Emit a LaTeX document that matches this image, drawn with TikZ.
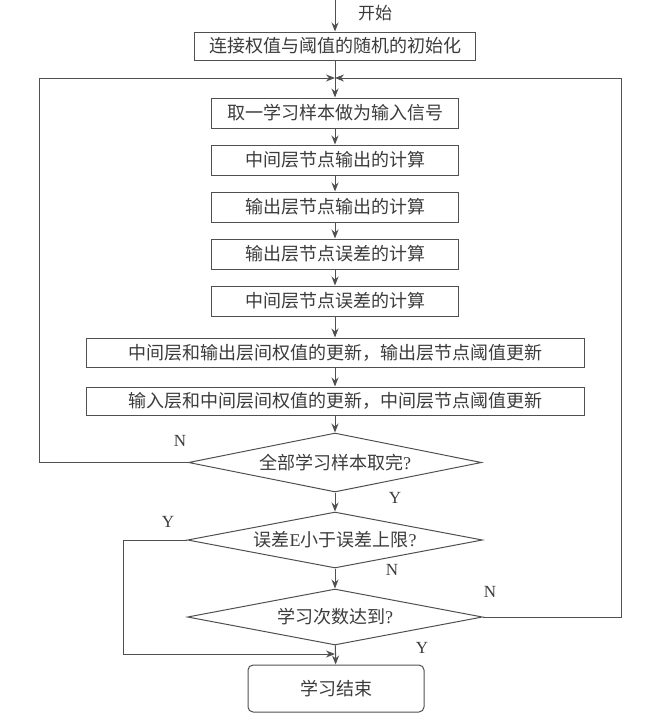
\documentclass[tikz,border=0pt]{standalone}
\usepackage{fontspec}
\setmainfont{Liberation Serif}
\newfontfamily\cjk{Noto Sans CJK SC}
\usetikzlibrary{shapes.geometric,arrows.meta}
\definecolor{linec}{HTML}{505050}
\definecolor{textc}{HTML}{3C3C3C}
\begin{document}
\begin{tikzpicture}[x=1pt,y=-1pt,
  ln/.style={draw=linec,line width=1pt},
  arr/.style={ln,-{Stealth[length=9pt,width=7pt]}},
  box/.style={draw=linec,line width=1pt,fill=white,text=textc,font=\cjk\fontsize{18}{21}\selectfont,inner sep=0pt,minimum height=29pt},
  dia/.style={diamond,aspect=5,draw=linec,line width=1pt,fill=white,text=textc,font=\cjk\fontsize{18}{21}\selectfont,inner sep=0pt},
  lab/.style={text=textc,font=\fontsize{17}{19}\selectfont}]
\useasboundingbox (0,0) rectangle (658,726);
\fill[white] (0,0) rectangle (658,726);

\coordinate (s) at (335,0);
\node[text=textc,font=\cjk\fontsize{17}{19}\selectfont] (kaishi) at (375,13) {开始};
\node[box,minimum width=281pt,minimum height=28pt] (init) at (335,46) {连接权值与阈值的随机的初始化};
\coordinate (J) at (335,78);
\node[box,minimum width=247pt,minimum height=30pt] (b1) at (335,113) {取一学习样本做为输入信号};
\node[box,minimum width=247pt,minimum height=30pt] (b2) at (335,160) {中间层节点输出的计算};
\node[box,minimum width=247pt,minimum height=30pt] (b3) at (335,207) {输出层节点输出的计算};
\node[box,minimum width=247pt,minimum height=30pt] (b4) at (335,254) {输出层节点误差的计算};
\node[box,minimum width=247pt,minimum height=30pt] (b5) at (335,301) {中间层节点误差的计算};
\node[box,minimum width=498pt,minimum height=29pt] (b6) at (335,352.5) {中间层和输出层间权值的更新，输出层节点阈值更新};
\node[box,minimum width=498pt,minimum height=28pt] (b7) at (335,401) {输入层和中间层间权值的更新，中间层节点阈值更新};
\node[dia,minimum width=293pt,minimum height=59pt] (d1) at (335,462.5) {全部学习样本取完{\rmfamily ?}};
\node[dia,minimum width=295pt,minimum height=56pt] (d2) at (335,540) {误差{\rmfamily E}小于误差上限{\rmfamily ?}};
\node[dia,minimum width=295pt,minimum height=56pt] (d3) at (335,617) {学习次数达到{\rmfamily ?}};
\node[box,rounded corners=5pt,minimum width=176pt,minimum height=47pt] (end) at (336,688.5) {学习结束};

\draw[arr] (s) -- (init);
\draw[ln] (init) -- (J);
\draw[arr] (J) -- (b1);
\draw[arr] (b1) -- (b2);
\draw[arr] (b2) -- (b3);
\draw[arr] (b3) -- (b4);
\draw[arr] (b4) -- (b5);
\draw[arr] (b5) -- (b6);
\draw[arr] (b6) -- (b7);
\draw[arr] (b7) -- (d1);
\draw[arr] (d1) -- (d2);
\draw[arr] (d2) -- (d3);
\draw[arr] (d3) -- (end);

\coordinate (lc) at (39,78);
\coordinate (rc) at (621,78);
\coordinate (yc) at (123,654);
\coordinate (yj) at (335,654);
\draw[arr] (d1.west) -| (lc) -- (J);
\draw[arr] (d3.east) -| (rc) -- (J);
\draw[arr] (d2.west) -| (yc) -- (yj);

\node[lab] (n1) at (180,441) {N};
\node[lab] (y1) at (395,498) {Y};
\node[lab] (y2) at (168,522) {Y};
\node[lab] (n2) at (392,570) {N};
\node[lab] (n3) at (490,592) {N};
\node[lab] (y3) at (422,648) {Y};
\end{tikzpicture}
\end{document}
